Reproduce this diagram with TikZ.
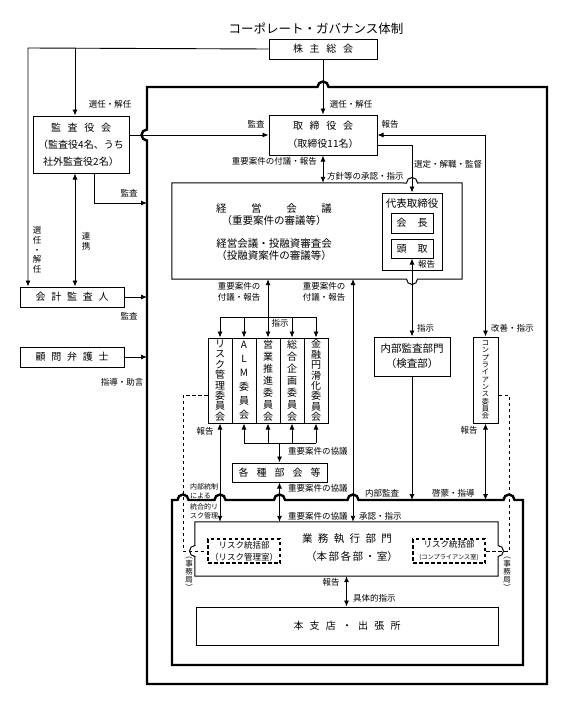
\documentclass[tikz,border=0pt]{standalone}
\usepackage{fontspec}
\setmainfont{Noto Sans CJK JP}
\usetikzlibrary{arrows.meta,positioning,calc}
\newcommand{\spr}[2]{\makebox[#1][s]{#2}}
\newcommand{\hopr}{5.5}

\begin{document}
\begin{tikzpicture}[x=1pt, y=-1pt, >={Latex[length=6pt,width=5pt]},
  box/.style={draw, line width=1pt, inner sep=0pt, align=center, font=\fontsize{10}{17}\selectfont},
  cmt/.style={box, minimum width=24pt, minimum height=85pt, font=\fontsize{10}{#1}\selectfont},
  dbox/.style={box, dash pattern=on 3.5pt off 2.5pt, line width=1.2pt, minimum width=72pt, minimum height=24pt, font=\fontsize{8.5}{12}\selectfont},
  lbl/.style={inner sep=0pt, align=center, font=\fontsize{8.5}{11}\selectfont},
  vlbl/.style={lbl, font=\fontsize{8.5}{9.6}\selectfont},
  tiny/.style={lbl, align=left, font=\fontsize{7}{9}\selectfont},
  link/.style={line width=0.9pt},
  dsh/.style={line width=0.9pt, dash pattern=on 3.5pt off 2.5pt},
  outl/.style={line width=1pt},
  frm/.style={line width=2.4pt}]
  \useasboundingbox (0,0) rectangle (586,712);

  \node[font=\fontsize{12.5}{14}\selectfont] (title) at (316,29) {コーポレート・ガバナンス体制};

  % boxes
  \node[box, minimum width=108pt, minimum height=20pt] (soukai) at (323,49) {\spr{60pt}{株 主 総 会}};
  \node[box, minimum width=96pt, minimum height=57pt] (kansa) at (81,144.5) {\spr{60pt}{監 査 役 会}\\（監査役4名、うち\\社外監査役2名）};
  \node[box, minimum width=108pt, minimum height=40pt, font=\fontsize{10}{18}\selectfont] (torishimari) at (323,135) {\spr{60pt}{取 締 役 会}\\（取締役11名）};
  \node[box, minimum width=104pt, minimum height=20pt] (kaikei) at (72,297) {\spr{73pt}{会 計 監 査 人}};
  \node[box, minimum width=104pt, minimum height=20pt] (bengo) at (72,357) {\spr{73pt}{顧 問 弁 護 士}};

  \node[minimum width=290pt, minimum height=96pt, inner sep=0pt] (keiei) at (317,231) {};
  \node[lbl, font=\fontsize{10.5}{12}\selectfont] (keieitxt) at (274,232) {\spr{116pt}{経 営 会 議}\\（重要案件の審議等）\\[11pt]経営会議・投融資審査会\\（投融資案件の審議等）};
  \node[box, minimum width=60pt, minimum height=77pt] (daihyo) at (412,231.5) {};
  \node[lbl, font=\fontsize{10.5}{12}\selectfont] (daihyotxt) at (412,204) {代表取締役};
  \node[box, minimum width=42pt, minimum height=20pt] (kaicho) at (412,223) {\spr{31pt}{会 長}};
  \node[box, minimum width=42pt, minimum height=19pt] (todori) at (412,248.5) {\spr{31pt}{頭 取}};

  % committees
  \node[cmt=10.4] (c1) at (220,380.5) {リ\\ス\\ク\\管\\理\\委\\員\\会};
  \node[cmt=14] (c2) at (244,380.5) {A\\L\\M\\委\\員\\会};
  \node[cmt=12] (c3) at (268,380.5) {営\\業\\推\\進\\委\\員\\会};
  \node[cmt=12] (c4) at (292,380.5) {総\\合\\企\\画\\委\\員\\会};
  \node[cmt=10.4] (c5) at (316,380.5) {金\\融\\円\\滑\\化\\委\\員\\会};
  \node[box, minimum width=76pt, minimum height=39pt, font=\fontsize{10.5}{15}\selectfont] (naibu) at (412,356.5) {内部監査部門\\（検査部）};
  \node[box, minimum width=25pt, minimum height=86pt, font=\fontsize{7.2}{7.3}\selectfont] (comp) at (485.5,380) {コ\\ン\\プ\\ラ\\イ\\ア\\ン\\ス\\委\\員\\会};
  \node[box, minimum width=95pt, minimum height=19pt] (bukai) at (279.5,472.5) {\spr{82pt}{各 種 部 会 等}};

  \node[minimum width=303pt, minimum height=54pt, inner sep=0pt] (gyomu) at (346.5,549) {};
  \node[lbl, font=\fontsize{10.5}{18}\selectfont] (gyomutxt) at (347,548) {\spr{90pt}{業 務 執 行 部 門}\\\spr{82pt}{（本 部 各 部 ・ 室）}};
  \node[dbox] (riskL) at (244,551) {リスク統括部\\（リスク管理室）};
  \node[dbox] (riskR) at (449,551) {リスク統括部\\{\fontsize{6.2}{8}\selectfont(コンプライアンス室)}};
  \node[box, minimum width=302pt, minimum height=38pt] (honshiten) at (347,626) {\spr{107pt}{本 支 店 ・ 出 張 所}};

  % frames with hops
  \coordinate (onw) at (147,87);
  \coordinate (inw) at (172,500);
  \draw[frm] (147,684) -- (147,135+\hopr) arc[start angle=90, end angle=270, radius=\hopr] -- (onw)
    -- (323-\hopr,87) arc[start angle=180, end angle=360, radius=\hopr] -- (547,87) -- (547,684) -- cycle;
  \draw[frm] (172,665) -- (inw) foreach \hx in {183,220,279.5,353,509} { -- (\hx-\hopr,500) arc[start angle=180, end angle=360, radius=\hopr] }
    -- (523,500) -- (523,665) -- cycle;
  \draw[outl] (keiei.north west) -- (412-\hopr,183) arc[start angle=180, end angle=360, radius=\hopr] -- (keiei.north east)
    -- (keiei.south east) -- (412+\hopr,279) arc[start angle=0, end angle=180, radius=\hopr] -- (keiei.south west) -- cycle;
  \draw[outl] (gyomu.north west) -- (gyomu.north east) -- (498,551-\hopr) arc[start angle=-90, end angle=90, radius=\hopr]
    -- (gyomu.south east) -- (gyomu.south west) -- (195,551+\hopr) arc[start angle=90, end angle=270, radius=\hopr] -- cycle;

  % connectors
  \coordinate (lft) at (28,48);
  \coordinate (kn) at (75,48);
  \coordinate (ka) at (94,203);
  \coordinate (sx) at (353,279);
  \coordinate (bus) at (0,317);
  \coordinate (bus2) at (0,443);
  \coordinate (dl) at (183,395);
  \coordinate (dr) at (509,395);
  \draw[link,->] (soukai.west) -- (lft) -- (lft |- kaikei.north);
  \draw[link,->] (kn) -- (kn |- kansa.north);
  \draw[link,->] (soukai.south) -- (torishimari.north);
  \draw[link,->] (kansa.east |- torishimari.west) -- (torishimari.west);
  \draw[link,<->] (kn |- kansa.south) -- (kn |- kaikei.north);
  \draw[link,->] (ka |- kansa.south) -- (ka) -- (ka -| onw);
  \draw[link,->] (kaikei.east) -- (kaikei.east -| onw);
  \draw[link,->] (bengo.east) -- (bengo.east -| onw);
  \draw[link,<->] (torishimari.south) -- (torishimari.south |- keiei.north);
  \draw[link,->] ([yshift=-10pt]torishimari.east) -| (daihyo.north);
  \draw[link,<->] (torishimari.east) -| (comp.north);
  \draw[link,<->] (todori.south) -- (naibu.north);
  \draw[link,<->] (c3.north |- keiei.south) -- (c3.north);
  \draw[link] (c1.north |- bus) -- (c5.north |- bus);
  \foreach \i in {1,2,4,5} \draw[link,->] (c\i.north |- bus) -- (c\i.north);
  \draw[link,<->] (sx) -- (sx |- gyomu.north);
  \draw[link,<->] (c1.south) -- (c1.south |- gyomu.north);
  \draw[link] (c2.south |- bus2) -- (c5.south |- bus2);
  \foreach \i in {2,...,5} \draw[link,->] (c\i.south |- bus2) -- (c\i.south);
  \draw[link,->] (bukai.north |- bus2) -- (bukai.north);
  \draw[link,<->] (bukai.south) -- (bukai.south |- gyomu.north);
  \draw[link,->] (naibu.south) -- (naibu.south |- inw);
  \draw[link,<->] (comp.south) -- (comp.south |- inw);
  \draw[link,<->] (gyomu.south) -- (gyomu.south |- honshiten.north);
  \draw[dsh] (c1.west |- dl) -- (dl) |- (riskL.west);
  \draw[dsh] (comp.east |- dr) -- (dr) |- (riskR.east);

  % labels
  \node[lbl] (l1) at (110,104) {選任・解任};
  \node[lbl] (l2) at (351,104) {選任・解任};
  \node[lbl] (l3) at (256,124) {監査};
  \node[lbl] (l4) at (390,124) {報告};
  \node[lbl, anchor=east] (l5) at (317,161) {重要案件の付議・報告};
  \node[lbl, anchor=west] (l6) at (327,176) {方針等の承認・指示};
  \node[lbl, anchor=west] (l7) at (414,164) {選定・解職・監督};
  \node[lbl] (l8) at (129,193) {監査};
  \node[vlbl] (l9) at (37,250) {選\\任\\・\\解\\任};
  \node[vlbl] (l10) at (86,241) {連\\携};
  \node[lbl] (l11) at (129,316) {監査};
  \node[lbl] (l12) at (122,382) {指導・助言};
  \node[lbl] (l13) at (239,291.5) {重要案件の\\付議・報告};
  \node[lbl] (l14) at (324,291.5) {重要案件の\\付議・報告};
  \node[lbl] (l15) at (280,323) {指示};
  \node[lbl, anchor=west] (l16) at (418,264) {報告};
  \node[lbl, anchor=west] (l17) at (417,328) {指示};
  \node[lbl, anchor=west] (l18) at (491,328) {改善・指示};
  \node[lbl] (l19) at (205,431) {報告};
  \node[lbl] (l20) at (469,430) {報告};
  \node[lbl, anchor=west] (l21) at (288,451) {重要案件の協議};
  \node[lbl, anchor=west] (l22) at (288,488) {重要案件の協議};
  \node[lbl, anchor=west] (l23) at (288,516) {重要案件の協議};
  \node[lbl, anchor=west] (l24) at (359,516) {承認・指示};
  \node[lbl, anchor=west] (l25) at (365,493) {内部監査};
  \node[lbl, anchor=west] (l26) at (432,493) {啓蒙・指導};
  \node[tiny, anchor=west] (l27) at (190,491.5) {内部統制\\による};
  \node[tiny, anchor=west] (l28) at (190,511.5) {統合的リ\\スク管理};
  \node[lbl] (l29) at (331,582) {報告};
  \node[lbl, anchor=west] (l30) at (353,598) {具体的指示};
  \node[vlbl, font=\fontsize{7.5}{8}\selectfont] (l31) at (189,574) {︵\\事\\務\\局\\︶};
  \node[vlbl, font=\fontsize{7.5}{8}\selectfont] (l32) at (507,574) {︵\\事\\務\\局\\︶};
\end{tikzpicture}
\end{document}
